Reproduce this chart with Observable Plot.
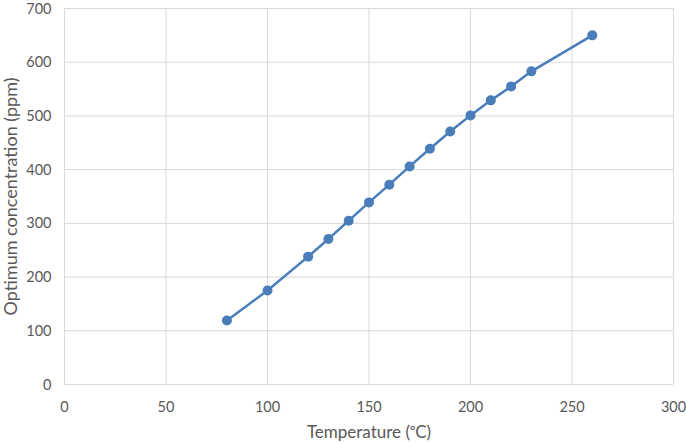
<!DOCTYPE html>
<html><head><meta charset="utf-8">
<script src="https://cdn.jsdelivr.net/npm/d3@7"></script>
<script src="https://cdn.jsdelivr.net/npm/@observablehq/plot@0.6"></script>
<style>body{margin:0;background:#fff;} svg{display:block;}</style>
</head><body><div id="chart"></div>
<script>
const temperature = [80, 100, 120, 130, 140, 150, 160, 170, 180, 190, 200, 210, 220, 230, 260];
const concentration = [119, 175, 238, 271, 305, 339, 372, 406, 439, 471, 501, 529, 555, 583, 650];
const xTicks = [0, 50, 100, 150, 200, 250, 300];
const yTicks = [0, 100, 200, 300, 400, 500, 600, 700];
const data = temperature.map((t, i) => ({t, c: concentration[i]}));

const chart = Plot.plot({
  width: 686, height: 443,
  marginLeft: 64, marginRight: 13, marginTop: 8, marginBottom: 59,
  style: {fontFamily: "Lato, sans-serif", fontSize: "14px", color: "#595959", background: "#fff"},
  x: {domain: [0, 300], ticks: xTicks, label: null},
  y: {domain: [0, 700], ticks: yTicks, label: null},
  marks: [
    Plot.gridX(xTicks, {stroke: "#d9d9d9", strokeOpacity: 1, strokeWidth: 1}),
    Plot.gridY(yTicks, {stroke: "#d9d9d9", strokeOpacity: 1, strokeWidth: 1}),
    Plot.axisX({ticks: xTicks, tickSize: 0, tickPadding: 17, fontSize: 14.5, fill: "#595959"}),
    Plot.axisY({ticks: yTicks, tickSize: 0, tickPadding: 13, fontSize: 14.5, fill: "#595959", dy: 0.5}),
    Plot.axisX({ticks: [], label: "Temperature (ᵒC)", labelAnchor: "center", labelArrow: "none", labelOffset: 53, fontSize: 17, fill: "#595959"}),
    Plot.axisY({ticks: [], label: "Optimum concentration (ppm)", labelAnchor: "center", labelArrow: "none", labelOffset: 60, fontSize: 18, fill: "#595959", dx: 4}),
    Plot.line(data, {x: "t", y: "c", stroke: "#4a7ebb", strokeWidth: 2.5}),
    Plot.dot(data, {x: "t", y: "c", fill: "#4a7ebb", r: 5})
  ]
});
document.getElementById("chart").append(chart);
</script></body></html>
